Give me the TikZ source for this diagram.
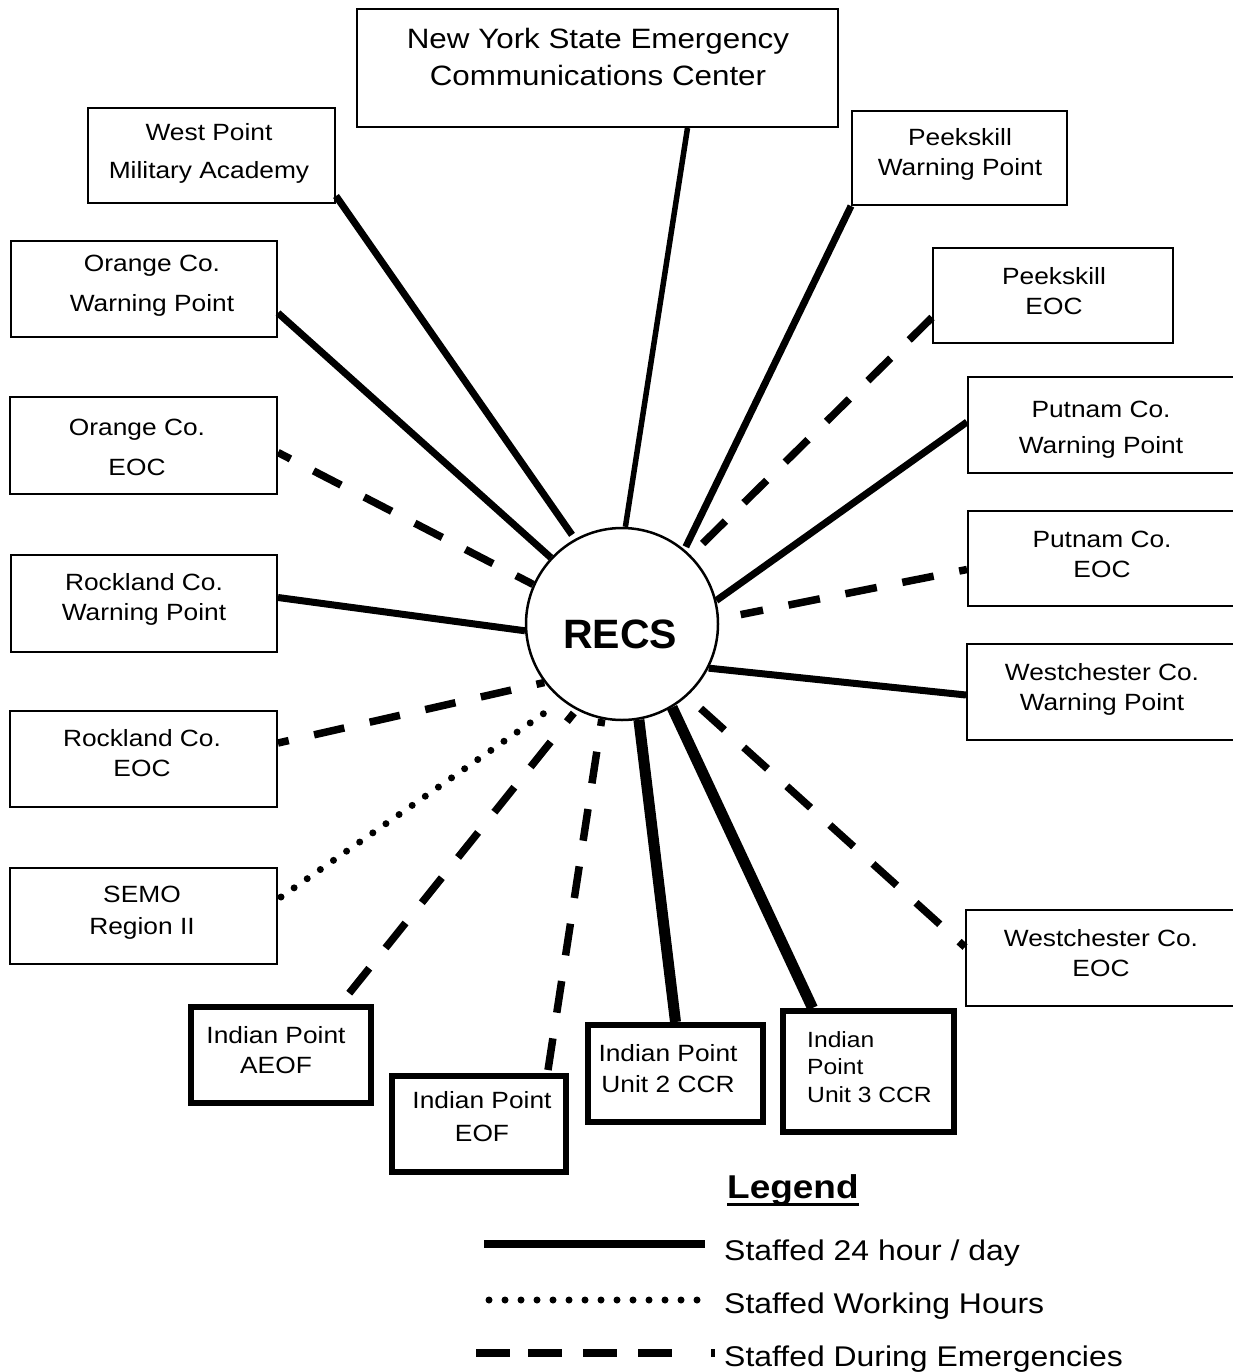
\documentclass[tikz,border=0pt]{standalone}
\usepackage{fontspec}
\setmainfont[FakeStretch=1.12]{Liberation Sans}
\newfontfamily\recsfont{Liberation Sans}
\usetikzlibrary{calc}
\begin{document}
\begin{tikzpicture}[x=1pt,y=-1pt,
  box/.style={draw, line width=2pt, fill=white, inner sep=0pt, rectangle},
  tbox/.style={box, line width=6pt},
  txt/.style={font=\fontsize{23.5}{#1}\selectfont, align=center, inner sep=0pt, anchor=base},
  solidl/.style={line width=7pt},
  thinl/.style={line width=5.5pt},
  thickl/.style={line width=11pt},
  dashl/.style={line width=7.5pt, dash pattern=on 32pt off 26pt},
  dotl/.style={line width=7pt, line cap=round, dash pattern=on 0pt off 16pt},
  legtxt/.style={font=\fontsize{28.5}{30}\selectfont, anchor=base west, inner sep=0pt}]
\fill[white] (0,0) rectangle (1232,1372);
\useasboundingbox (0,0) rectangle (1232,1372);

% boxes
\node[box, minimum width=481pt, minimum height=118pt] (nys) at (597.5,68) {};
\node[box, minimum width=247pt, minimum height=95pt] (wp) at (211.5,155.5) {};
\node[box, minimum width=215pt, minimum height=94pt] (kwp) at (959.5,158) {};
\node[box, minimum width=266pt, minimum height=96pt] (owp) at (144,289) {};
\node[box, minimum width=240pt, minimum height=95pt] (keoc) at (1053,295.5) {};
\node[box, minimum width=267pt, minimum height=97pt] (oeoc) at (143.5,445.5) {};
\node[box, minimum width=266pt, minimum height=96pt] (pwp) at (1101,425) {};
\node[box, minimum width=266pt, minimum height=95pt] (peoc) at (1101,558.5) {};
\node[box, minimum width=266pt, minimum height=97pt] (rwp) at (144,603.5) {};
\node[box, minimum width=267pt, minimum height=96pt] (wwp) at (1100.5,692) {};
\node[box, minimum width=267pt, minimum height=96pt] (reoc) at (143.5,759) {};
\node[box, minimum width=267pt, minimum height=96pt] (semo) at (143.5,916) {};
\node[box, minimum width=268pt, minimum height=96pt] (weoc) at (1100,958) {};
\node[tbox, minimum width=180pt, minimum height=96pt] (aeof) at (281,1055) {};
\node[tbox, minimum width=174pt, minimum height=96pt] (eof) at (479,1124) {};
\node[tbox, minimum width=175pt, minimum height=97pt] (u2) at (675.5,1073.5) {};
\node[tbox, minimum width=171pt, minimum height=121pt] (u3) at (868.5,1071.5) {};
\node[circle, draw, line width=2.5pt, fill=white, minimum size=192pt, inner sep=0pt] (recs) at (622,624) {};

% texts (anchor = baseline of the last line)
\node[txt=37, font=\fontsize{28}{37}\selectfont] (tnys) at (598,86) {New York State Emergency\\Communications Center};
\node[txt=38] (twp) at (209,179) {West Point\\Military Academy};
\node[txt=30] (tkwp) at (960,176) {Peekskill\\Warning Point};
\node[txt=40] (towp) at (152,311) {Orange Co.\\Warning Point};
\node[txt=30] (tkeoc) at (1054,314) {Peekskill\\EOC};
\node[txt=40] (toeoc) at (137,475) {Orange Co.\\EOC};
\node[txt=36] (tpwp) at (1101,453) {Putnam Co.\\Warning Point};
\node[txt=30] (tpeoc) at (1102,577) {Putnam Co.\\EOC};
\node[txt=30] (trwp) at (144,620) {Rockland Co.\\Warning Point};
\node[txt=30] (twwp) at (1102,710) {Westchester Co.\\Warning Point};
\node[txt=30] (treoc) at (142,776) {Rockland Co.\\EOC};
\node[txt=32] (tsemo) at (142,934) {SEMO\\Region II};
\node[txt=30] (tweoc) at (1101,976) {Westchester Co.\\EOC};
\node[txt=30] (taeof) at (276,1073) {Indian Point\\AEOF};
\node[txt=33] (teof) at (482,1141) {Indian Point\\EOF};
\node[txt=31] (tu2) at (668,1092) {Indian Point\\Unit 2 CCR};
\node[txt=27.5, align=left, anchor=base west, font=\fontsize{22}{27.5}\selectfont] (tu3) at (807,1102) {Indian\\Point\\Unit 3 CCR};
\node[anchor=base, inner sep=0pt, font=\recsfont\bfseries\fontsize{41}{41}\selectfont] (trecs) at (620,648) {RECS};

% connectors
\draw[thinl] ($(nys.south)+(90,0)$) -- (recs.88);
\draw[solidl, shorten >=5pt] ($(wp.south east)+(0,-8)$) -- (recs.119);
\draw[solidl] ($(owp.east)+(0,24)$) -- (recs.137);
\draw[dashl, dash pattern=on 31pt off 26pt, dash phase=17pt] ($(oeoc.east)+(0,7)$) -- (recs.156);
\draw[solidl] ($(rwp.east)+(0,-6)$) -- (recs.184);
\draw[dashl, dash pattern=on 31pt off 26pt, dash phase=20pt] ($(reoc.east)+(0,-16)$) -- (recs.217);
\draw[dotl, shorten >=9pt] ($(semo.east)+(3,-19)$) -- (recs.232);
\draw[dashl, shorten <=10pt, shorten >=4pt] ($(aeof.north)+(62,-3)$) -- (recs.242);
\draw[dashl] ($(eof.north)+(69,-3)$) -- (recs.258);
\draw[thickl] (u2.north) -- (recs.280);
\draw[thickl] ($(u3.north)+(-56,0)$) -- (recs.301);
\draw[dashl, dash phase=24pt, shorten >=2pt] ($(weoc.west)+(0,-11)$) -- (recs.312);
\draw[solidl] ($(wwp.west)+(0,3)$) -- (recs.333);
\draw[dashl, dash phase=24pt, shorten >=22pt] ($(peoc.west)+(0,11)$) -- (recs.3);
\draw[solidl] ($(pwp.west)+(0,-3)$) -- (recs.14);
\draw[dashl, shorten >=5pt] ($(keoc.west)+(0,22)$) -- (recs.45);
\draw[solidl, shorten >=3pt] (kwp.south west) -- (recs.50);

% legend
\node[anchor=base west, inner sep=0pt, font=\bfseries\fontsize{33}{36}\selectfont] (leg) at (727,1198) {Legend};
\draw[line width=3pt] ($(leg.base west)+(0,6)$) -- ($(leg.base east)+(0,6)$);
\coordinate (la1) at (484,1244); \coordinate (la2) at (705,1244);
\coordinate (lb1) at (489,1300); \coordinate (lb2) at (697,1300);
\coordinate (lc1) at (476,1353); \coordinate (lc2) at (715,1353);
\draw[line width=8pt] (la1) -- (la2);
\draw[dotl] (lb1) -- (lb2);
\draw[line width=8pt, dash pattern=on 34pt off 18pt on 34pt off 21pt on 34pt off 21pt on 34pt off 39pt on 4pt off 100pt] (lc1) -- (lc2);
\node[legtxt] (l1) at (724,1260) {Staffed 24 hour / day};
\node[legtxt] (l2) at (724,1313) {Staffed Working Hours};
\node[legtxt] (l3) at (724,1366) {Staffed During Emergencies};
\end{tikzpicture}
\end{document}
